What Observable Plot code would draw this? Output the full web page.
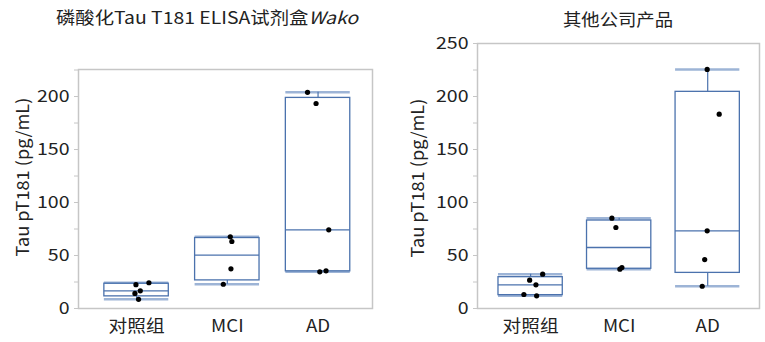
<!DOCTYPE html>
<html>
<head>
<meta charset="utf-8">
<script src="https://cdn.jsdelivr.net/npm/d3@7"></script>
<script src="https://cdn.jsdelivr.net/npm/@observablehq/plot@0.6"></script>
<style>
  html, body { margin: 0; padding: 0; background: #fff; }
  #root { position: relative; width: 765px; height: 342px; overflow: hidden; font-family: "Noto Sans CJK SC", "Noto Sans", sans-serif; color: #222; }
  .panel { position: absolute; top: 0; }
  .title { position: absolute; font-size: 17px; white-space: nowrap; color: #222; }
  .ylab { position: absolute; font-size: 17px; white-space: nowrap; color: #222; }
</style>
</head>
<body>
<div id="root"></div>
<script>
// ---- data ----
const groups = ["对照组", "MCI", "AD"];

// Left panel: 磷酸化Tau T181 ELISA试剂盒Wako
const wakoControl = [24.3, 22.5, 16.7, 14.2, 8.7];
const wakoMCI     = [67.6, 63.2, 37.4, 22.9];
const wakoAD      = [204.0, 193.4, 74.2, 34.6, 35.5];
const wakoControlJitter = [0.136, -0.007, 0.041, -0.018, 0.022];
const wakoMCIJitter     = [0.033, 0.05, 0.04, -0.044];
const wakoADJitter      = [-0.116, -0.022, 0.118, 0.019, 0.088];

// Right panel: 其他公司产品
const otherControl = [32.4, 26.7, 22.3, 13.2, 12.0];
const otherMCI     = [85.2, 76.4, 37.1, 38.7];
const otherAD      = [225.5, 183.3, 73.3, 46.2, 21.0];
const otherControlJitter = [0.136, -0.011, 0.06, -0.076, 0.068];
const otherMCIJitter     = [-0.082, -0.037, 0.008, 0.031];
const otherADJitter      = [-0.006, 0.13, -0.006, -0.034, -0.062];

const yTicksLeft  = [0, 25, 50, 75, 100, 125, 150, 175, 200, 225];
const yTicksRight = [0, 25, 50, 75, 100, 125, 150, 175, 200, 225, 250];

const leftTitle = "磷酸化Tau T181 ELISA试剂盒";
const leftTitleItalic = "Wako";
const rightTitle = "其他公司产品";
const yLabel = "Tau pT181 (pg/mL)";

// ---- helpers ----
// exclusive quartile (position p*(n+1), 1-based), as in the source software
function qExc(values, p) {
  const s = values.slice().sort((a, b) => a - b);
  const n = s.length;
  let pos = p * (n + 1);
  if (pos <= 1) return s[0];
  if (pos >= n) return s[n - 1];
  const i = Math.floor(pos), f = pos - i;
  return s[i - 1] + f * (s[i] - s[i - 1]);
}
function stats(sets) {
  return sets.map((v, i) => ({
    i, group: groups[i],
    min: d3.min(v), max: d3.max(v),
    q1: qExc(v, 0.25), med: qExc(v, 0.5), q3: qExc(v, 0.75)
  }));
}
function points(sets, jitters) {
  const out = [];
  sets.forEach((v, i) => v.forEach((y, k) => out.push({x: i + jitters[i][k], y, group: groups[i]})));
  return out;
}

const BOX = "#4b72ad";
const CAP = "#9db4d6";
const GRID = "#c6c6c6";

function panel({sets, jitters, yDomain, yTicks, xDomain, hw, width, marginLeft, marginRight, marginTop, marginBottom}) {
  const st = stats(sets);
  const pts = points(sets, jitters);
  return Plot.plot({
    width, height: 342,
    marginLeft, marginRight, marginTop, marginBottom,
    style: {fontFamily: '"Noto Sans CJK SC", "Noto Sans", sans-serif', fontSize: "17px", color: "#222", background: "transparent"},
    x: {type: "linear", domain: xDomain, axis: null},
    y: {domain: yDomain, axis: null},
    marks: [
      Plot.frame({stroke: GRID, strokeWidth: 1.5}),
      Plot.axisY({ticks: yTicks, tickSize: 4, tickPadding: 5, stroke: GRID, strokeWidth: 1,
        tickFormat: d => (d % 50 === 0 ? d : ""), label: null, fontSize: 17, fill: "#222", ariaLabel: "yax"}),
      Plot.axisX({ticks: [0, 1, 2], tickSize: 0, tickPadding: 11, tickFormat: d => groups[d], label: null, fontSize: 17, fill: "#222", ariaLabel: "xax"}),
      // whisker caps
      Plot.ruleY(st, {y: "max", x1: d => d.i - hw, x2: d => d.i + hw, stroke: CAP, strokeWidth: 2.5}),
      Plot.ruleY(st, {y: "min", x1: d => d.i - hw, x2: d => d.i + hw, stroke: CAP, strokeWidth: 2.5}),
      // whisker stems
      Plot.ruleX(st, {x: "i", y1: "q3", y2: "max", stroke: BOX, strokeWidth: 1.2}),
      Plot.ruleX(st, {x: "i", y1: "min", y2: "q1", stroke: BOX, strokeWidth: 1.2}),
      // box
      Plot.rect(st, {x1: d => d.i - hw, x2: d => d.i + hw, y1: "q1", y2: "q3", fill: "none", stroke: BOX, strokeWidth: 1.3}),
      // median
      Plot.ruleY(st, {y: "med", x1: d => d.i - hw, x2: d => d.i + hw, stroke: BOX, strokeWidth: 1.3}),
      // points
      Plot.dot(pts, {x: "x", y: "y", r: 2.6, fill: "#000", stroke: "none"})
    ]
  });
}

// widen tick label glyphs horizontally (reference font is wider)
function widenTexts(svg, s) {
  svg.querySelectorAll("text").forEach(t => {
    const tr = t.getAttribute("transform");
    if (tr) t.setAttribute("transform", tr + ` scale(${s},1)`);
    else {
      const x = +(t.getAttribute("x") || 0);
      t.setAttribute("transform", `translate(${x},0) scale(${s},1) translate(${-x},0)`);
    }
  });
}

const root = document.getElementById("root");

const left = panel({
  sets: [wakoControl, wakoMCI, wakoAD],
  jitters: [wakoControlJitter, wakoMCIJitter, wakoADJitter],
  yDomain: [0, 225.5], yTicks: yTicksLeft,
  xDomain: [-0.64, 2.60], hw: 0.355,
  width: 390, marginLeft: 78, marginRight: 18, marginTop: 69, marginBottom: 34
});
const right = panel({
  sets: [otherControl, otherMCI, otherAD],
  jitters: [otherControlJitter, otherMCIJitter, otherADJitter],
  yDomain: [0, 250], yTicks: yTicksRight,
  xDomain: [-0.60, 2.585], hw: 0.363,
  width: 375, marginLeft: 87, marginRight: 6, marginTop: 43, marginBottom: 34
});
[left, right].forEach(svg => {
  svg.querySelectorAll('[aria-label="yax"] text, [aria-label="yax"] ~ g text').forEach(() => {});
});
// y tick labels wider, x labels slightly wider
[left, right].forEach(svg => {
  svg.querySelectorAll("g").forEach(g => {
    const a = g.getAttribute("aria-label") || "";
    if (a.startsWith("yax") && a.includes("label")) widenTexts(g, 1.15);
    if (a.startsWith("xax") && a.includes("label")) widenTexts(g, 1.1);
  });
});

const lp = document.createElement("div"); lp.className = "panel"; lp.style.left = "0px"; lp.appendChild(left); root.appendChild(lp);
const rp = document.createElement("div"); rp.className = "panel"; rp.style.left = "390px"; rp.appendChild(right); root.appendChild(rp);

function addTitle(html, x, y, sx) {
  const t = document.createElement("div"); t.className = "title";
  t.innerHTML = html; t.style.left = x + "px"; t.style.top = y + "px";
  t.style.transform = `translate(-50%, -50%) scaleX(${sx})`;
  root.appendChild(t);
}
addTitle(leftTitle + "<i>" + leftTitleItalic + "</i>", 207, 16, 1.14);
addTitle(rightTitle, 617.5, 17.5, 1.08);

function addYLabel(x, y) {
  const t = document.createElement("div"); t.className = "ylab";
  t.textContent = yLabel; t.style.left = x + "px"; t.style.top = y + "px";
  t.style.transform = "translate(-50%, -50%) rotate(-90deg) scaleX(1.07)";
  root.appendChild(t);
}
addYLabel(21, 176.5);
addYLabel(416, 178);
</script>
</body>
</html>
